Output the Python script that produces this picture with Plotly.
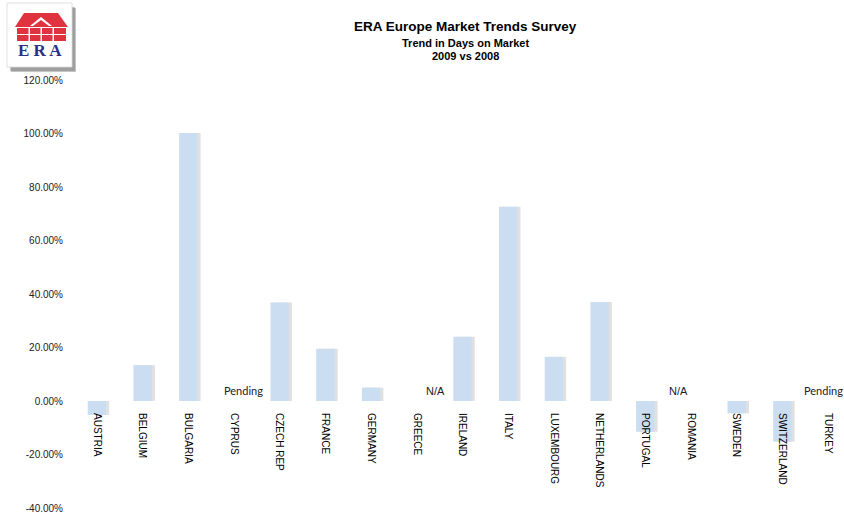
import plotly.graph_objects as go

# ---------------- data ----------------
countries = ["AUSTRIA", "BELGIUM", "BULGARIA", "CYPRUS", "CZECH REP", "FRANCE",
             "GERMANY", "GREECE", "IRELAND", "ITALY", "LUXEMBOURG", "NETHERLANDS",
             "PORTUGAL", "ROMANIA", "SWEDEN", "SWITZERLAND", "TURKEY"]
trend_pct = [-5.2, 13.4, 100.2, None, 36.8, 19.5,
             5.0, None, 24.0, 72.6, 16.5, 37.0,
             -11.5, None, -4.6, -15.2, None]
status_labels = {"CYPRUS": "Pending", "GREECE": "N/A", "ROMANIA": "N/A", "TURKEY": "Pending"}
status_shift = {"CYPRUS": 10, "GREECE": 19, "ROMANIA": -12, "TURKEY": -5}
y_ticks = [-40, -20, 0, 20, 40, 60, 80, 100, 120]
y_tick_text = ["%.2f%%" % v for v in y_ticks]
title_lines = ["ERA Europe Market Trends Survey", "Trend in Days on Market", "2009 vs 2008"]

# ---------------- layout geometry ----------------
W, H = 844, 515
L, R, T, B = 74, 0, 80, 7
PW = W - L - R
PH = H - T - B

def pxx(x):  # page pixel x -> paper fraction
    return (x - L) / PW

def pxy(y):  # page pixel y -> paper fraction
    return (H - B - y) / PH

fig = go.Figure()

# soft shadow behind bars
fig.add_trace(go.Bar(
    x=countries, y=trend_pct, width=0.4, offset=-0.2 + 0.07,
    marker=dict(color="rgba(0,0,0,0.12)", line=dict(width=0)),
    hoverinfo="skip", showlegend=False))
fig.add_trace(go.Bar(
    x=countries, y=trend_pct, width=0.4,
    marker=dict(color="#CADDF1", line=dict(width=0)),
    showlegend=False))

# status annotations (Pending / N/A)
for c, txt in status_labels.items():
    fam = "Lato" if txt == "Pending" else "Liberation Sans, Arial"
    fig.add_annotation(x=c, y=0, xref="x", yref="y", text=txt, showarrow=False,
                       yanchor="bottom", yshift=2, xshift=status_shift[c],
                       font=dict(family=fam, size=11, color="#222222"))

# titles
title_sizes = [13.5, 11, 11]
title_y = [27, 43, 56]
for t, s, yy in zip(title_lines, title_sizes, title_y):
    fig.add_annotation(xref="paper", yref="paper", x=pxx(466), y=pxy(yy),
                       text="<b>%s</b>" % t, showarrow=False,
                       xanchor="center", yanchor="middle",
                       font=dict(family="Liberation Sans, Arial", size=s, color="#000000"))

# ---------------- ERA logo drawn with shapes ----------------
def rect(x0, y0, x1, y1, fill, line=None):
    fig.add_shape(type="rect", xref="paper", yref="paper",
                  x0=pxx(x0), x1=pxx(x1), y0=pxy(y0), y1=pxy(y1),
                  fillcolor=fill, line=dict(width=0.8 if line else 0, color=line or fill),
                  layer="above")

def poly(pts, fill):
    path = "M " + " L ".join("%f,%f" % (pxx(x), pxy(y)) for x, y in pts) + " Z"
    fig.add_shape(type="path", xref="paper", yref="paper", path=path,
                  fillcolor=fill, line=dict(width=0), layer="above")

rect(11, 8, 76, 72, "rgba(90,90,90,0.35)")
rect(10, 7, 75, 71, "rgba(90,90,90,0.35)")
rect(7, 3, 72, 67, "#FFFFFF", "#D8D8D8")
red = "#E03340"
# roof
poly([(15, 27), (24, 13), (58, 13), (68, 27)], red)
poly([(30, 26), (41, 17), (52, 26)], "#FFFFFF")
poly([(33, 26), (41, 20), (49, 26)], red)
# body with windows
rect(17, 28, 66, 41, red)
for xw in (28.5, 40.5, 52.5):
    rect(xw, 28, xw + 1.5, 41, "#FFFFFF")
rect(17, 34, 66, 35, "#FFFFFF")
fig.add_annotation(xref="paper", yref="paper", x=pxx(39.5), y=pxy(51),
                   text="<b>E R A</b>", showarrow=False, xanchor="center", yanchor="middle",
                   font=dict(family="Liberation Serif, Times New Roman", size=17, color="#2C2F86"))

fig.update_layout(
    width=W, height=H,
    margin=dict(l=L, r=R, t=T, b=B, autoexpand=False),
    paper_bgcolor="white", plot_bgcolor="white",
    barmode="overlay",
    showlegend=False,
    xaxis=dict(
        type="category", categoryorder="array", categoryarray=countries,
        range=[-0.5, -0.5 + PW / 45.7],
        anchor="free", position=0.25,
        showgrid=False, zeroline=False, showline=False,
        ticks="outside", ticklen=9, tickcolor="rgba(0,0,0,0)",
        tickangle=90,
        tickfont=dict(family="Liberation Sans, Arial", size=10, color="#000000"),
        fixedrange=True,
    ),
    yaxis=dict(
        range=[-40, 120], tickmode="array", tickvals=y_ticks, ticktext=y_tick_text,
        showgrid=False, zeroline=False, showline=False,
        ticks="outside", ticklen=8, tickcolor="rgba(0,0,0,0)",
        tickfont=dict(family="Liberation Sans, Arial", size=10, color="#222222"),
        fixedrange=True,
    ),
)

fig.write_html("out.html", config={"displayModeBar": False},
               post_script="document.body.style.margin='0';document.body.style.overflow='hidden';")
